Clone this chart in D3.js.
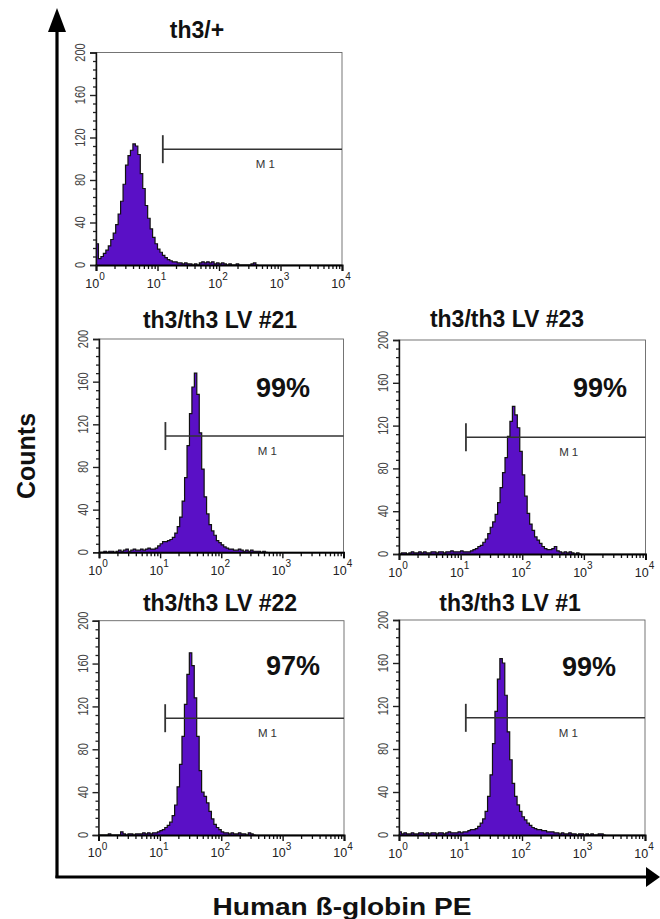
<!DOCTYPE html>
<html><head><meta charset="utf-8">
<script src="https://cdn.jsdelivr.net/npm/d3@7"></script>
<style>body{margin:0;background:#fff} svg{display:block}</style>
</head><body>
<svg id="chart" width="660" height="919"></svg>
<script>
// ---------- data ----------
const panelTitles = ["th3/+", "th3/th3 LV #21", "th3/th3 LV #23", "th3/th3 LV #22", "th3/th3 LV #1"];
const percentLabels = ["", "99%", "99%", "97%", "99%"];
const binWidthLog = 0.04; // histogram channel width, in decades, starting at 10^0
const countsTh3Plus = [20,6,8,11,14,18,24,30,38,48,60,76,94,103,108,114,112,104,86,72,56,44,34,26,20,15,12,9,7,5,4,3,3,2,2,1,2,1,1,0,1,0,2,3,2,3,2,3,1,2,1,2,1,0,1,0,0,1,0,0,0,0,0,1,2,0];
const countsLV21 = [0,0,1,0,1,1,0,1,2,1,2,3,1,2,3,2,2,3,2,3,4,3,3,4,6,8,10,10,11,12,14,18,24,33,48,70,100,130,155,168,148,112,78,52,36,26,20,16,11,9,7,5,4,3,3,2,2,3,2,1,2,1,2,1,1,1,0,1,0];
const countsLV23 = [0,1,1,0,1,2,1,1,2,1,2,1,1,2,2,1,2,2,1,2,2,3,2,2,2,3,2,2,2,3,4,5,7,8,11,14,19,25,30,37,48,62,76,90,110,124,138,130,118,96,74,54,38,28,22,16,13,10,7,5,4,4,5,7,3,2,1,2,1,2,1,0,1,0];
const countsLV22 = [0,0,0,0,1,0,0,0,0,3,1,0,1,1,0,1,1,1,2,1,2,1,2,2,3,4,5,7,9,12,18,28,45,66,92,122,150,170,158,128,92,60,40,36,30,22,15,10,7,5,3,2,2,1,2,1,1,2,1,1,0,2,1,0];
const countsLV1 = [3,1,2,1,1,2,1,1,2,2,1,2,1,2,2,1,2,2,1,2,3,2,2,2,3,2,3,3,4,5,5,6,8,11,15,22,36,56,85,115,145,164,160,130,96,70,48,36,28,22,17,14,11,9,7,6,5,5,4,4,3,3,3,2,2,1,2,1,1,2,1,1,0,1,1,0,1,0,1,0,0,1,1,0];
const panelCounts = [countsTh3Plus, countsLV21, countsLV23, countsLV22, countsLV1];
const yMajorTicks = [0, 40, 80, 120, 160, 200];
const yMinorTicks = [8,16,24,32,48,56,64,72,88,96,104,112,128,136,144,152,168,176,184,192];
const xDecadeExponents = [0, 1, 2, 3, 4];
const xMinorMultipliers = [2,3,4,5,6,7,8,9];
const gateStart = 12.2, gateCount = 109, gateLabelAt = 600;
const gateLabel = "M1";
const xAxisTitle = "Human ß-globin PE";
const yAxisTitle = "Counts";

// ---------- layout ----------
const layout = [
  {x:96,   y:52.5, w:246,   h:212.5, tx:197, ty:38,  px:0,   py:0},
  {x:99,   y:339,  w:244.5, h:213.3, tx:220, ty:328, px:283, py:397},
  {x:399,  y:340,  w:246.5, h:214,   tx:507, ty:327, px:600, py:397},
  {x:98.5, y:620.7,w:245.5, h:214.3, tx:220, ty:611, px:293, py:675},
  {x:399,  y:620,  w:246,   h:215,   tx:510, ty:611, px:589, py:676}
];
const FONT = "'Liberation Sans', Arial, Helvetica, sans-serif";
const fillColor = "#5a10c6";

const svg = d3.select("#chart");

panelCounts.forEach((counts, k) => {
  const L = layout[k];
  const g = svg.append("g").attr("transform", `translate(${L.x},${L.y})`);
  const x = d3.scaleLog().domain([1, 1e4]).range([0, L.w]);
  const y = d3.scaleLinear().domain([0, 200]).range([L.h, 0]);

  // frame
  g.append("rect").attr("x",0).attr("y",0).attr("width",L.w).attr("height",L.h)
    .attr("fill","none").attr("stroke","#666").attr("stroke-width",0.9);

  // histogram
  const pts = counts.map((c, i) => ({lx: i * binWidthLog, c: Math.min(c, 200)}));
  pts.push({lx: counts.length * binWidthLog, c: 0});
  const area = d3.area().x(d => x(Math.pow(10, d.lx))).y0(y(0)).y1(d => y(d.c)).curve(d3.curveStepAfter);
  const line = d3.line().x(d => x(Math.pow(10, d.lx))).y(d => y(d.c)).curve(d3.curveStepAfter);
  g.append("path").datum(pts).attr("d", area).attr("fill", fillColor);
  g.append("path").datum(pts).attr("d", line).attr("fill","none").attr("stroke","#111").attr("stroke-width",1.2).attr("stroke-linejoin","miter");

  // y axis
  const yMajor = d3.axisLeft(y).tickValues(yMajorTicks).tickSize(6).tickFormat("");
  const yMinor = d3.axisLeft(y).tickValues(yMinorTicks).tickSize(3).tickFormat("");
  g.append("g").call(yMinor).call(s => { s.select(".domain").remove(); s.selectAll("line").attr("stroke","#222").attr("stroke-width",1.3); });
  g.append("g").call(yMajor).call(s => { s.select(".domain").attr("stroke","#111").attr("stroke-width",1.4); s.selectAll("line").attr("stroke","#222").attr("stroke-width",1.4); });
  g.selectAll(".ylab").data(yMajorTicks).join("text").attr("class","ylab")
    .attr("transform", d => `translate(-11,${y(d)}) rotate(-90)`)
    .attr("text-anchor","middle").attr("font-family",FONT).attr("font-size",15)
    .attr("textLength", d => String(d).length * 6.1).attr("lengthAdjust","spacingAndGlyphs")
    .attr("fill","#444").text(d => d);

  // x axis
  const decades = xDecadeExponents.map(e => Math.pow(10, e));
  const minors = [];
  xDecadeExponents.slice(0, -1).forEach(e => xMinorMultipliers.forEach(m => minors.push(m * Math.pow(10, e))));
  g.append("g").attr("transform",`translate(0,${L.h})`).call(d3.axisBottom(x).tickValues(minors).tickSize(4).tickFormat(""))
    .call(s => { s.select(".domain").remove(); s.selectAll("line").attr("stroke","#111").attr("stroke-width",1.3); });
  g.append("g").attr("transform",`translate(0,${L.h})`).call(d3.axisBottom(x).tickValues(decades).tickSize(6).tickFormat(""))
    .call(s => { s.select(".domain").attr("stroke","#000").attr("stroke-width",2); s.selectAll("line").attr("stroke","#111").attr("stroke-width",1.4); });
  const xl = g.selectAll(".xlab").data(xDecadeExponents).join("text").attr("class","xlab")
    .attr("x", e => x(Math.pow(10, e)) - 1).attr("y", L.h + 22.5)
    .attr("text-anchor","middle").attr("font-family",FONT).attr("fill","#222");
  xl.append("tspan").attr("font-size",12.5).text("10");
  xl.append("tspan").attr("font-size",10).attr("dy",-7.5).text(e => e);

  // gate M1
  const gy = y(gateCount), gx0 = x(gateStart);
  g.append("line").attr("x1",gx0).attr("x2",L.w).attr("y1",gy).attr("y2",gy).attr("stroke","#333").attr("stroke-width",1.5);
  g.append("line").attr("x1",gx0).attr("x2",gx0).attr("y1",gy-14).attr("y2",gy+14).attr("stroke","#333").attr("stroke-width",1.8);
  g.append("text").attr("x", x(gateLabelAt)).attr("y", gy + 19).attr("text-anchor","middle")
    .attr("font-family",FONT).attr("font-size",11.5).attr("letter-spacing",3).attr("fill","#333").text(gateLabel);

  // title
  svg.append("text").attr("x",L.tx).attr("y",L.ty).attr("text-anchor","middle").attr("font-family",FONT)
    .attr("font-weight","bold").attr("font-size",23).attr("fill","#111").text(panelTitles[k]);
  if (percentLabels[k]) {
    svg.append("text").attr("x",L.px).attr("y",L.py).attr("text-anchor","middle").attr("font-family",FONT)
      .attr("font-weight","bold").attr("font-size",27).attr("fill","#111").text(percentLabels[k]);
  }
});

// big axis arrows
const ax = svg.append("g");
ax.append("line").attr("x1",57).attr("x2",57).attr("y1",28).attr("y2",878).attr("stroke","#000").attr("stroke-width",3.2);
ax.append("line").attr("x1",55.5).attr("x2",648).attr("y1",877).attr("y2",877).attr("stroke","#000").attr("stroke-width",3.2);
ax.append("polygon").attr("points","57,8 48,32 66,32").attr("fill","#000");
ax.append("polygon").attr("points","660,877 646,867 646,887").attr("fill","#000");

svg.append("text").attr("x",342).attr("y",915).attr("text-anchor","middle").attr("font-family",FONT)
  .attr("font-weight","bold").attr("font-size",23.5).attr("textLength",259).attr("lengthAdjust","spacingAndGlyphs")
  .attr("fill","#111").text(xAxisTitle);
svg.append("text").attr("transform","translate(35,456) rotate(-90)").attr("text-anchor","middle").attr("font-family",FONT)
  .attr("font-weight","bold").attr("font-size",25).attr("fill","#111").text(yAxisTitle);
</script>
</body></html>
